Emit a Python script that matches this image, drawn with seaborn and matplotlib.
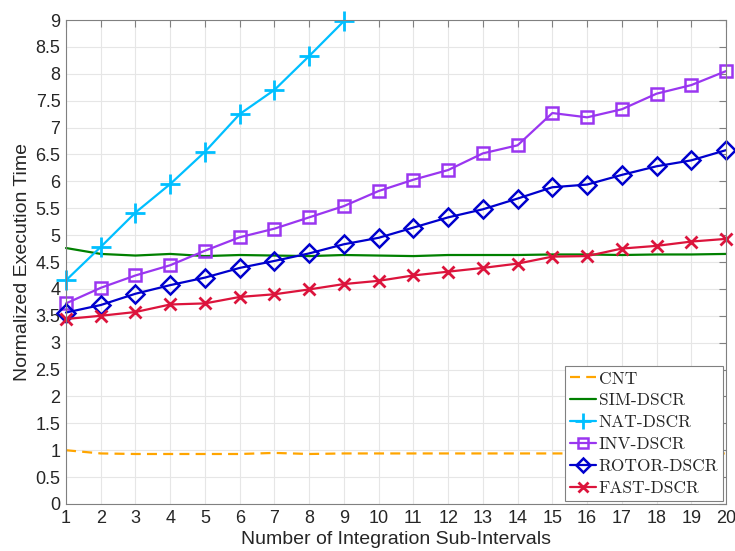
import matplotlib
matplotlib.use("Agg")
import matplotlib.pyplot as plt
import seaborn as sns
import numpy as np
import pandas as pd

x = list(range(1, 21))
cnt = [1.00, 0.94, 0.93, 0.93, 0.93, 0.93, 0.95, 0.93, 0.94, 0.94,
       0.94, 0.94, 0.94, 0.94, 0.94, 0.94, 0.94, 0.94, 0.94, 0.94]
sim = [4.76, 4.65, 4.62, 4.65, 4.61, 4.63, 4.62, 4.61, 4.63, 4.62,
       4.61, 4.63, 4.63, 4.63, 4.64, 4.64, 4.63, 4.64, 4.64, 4.65]
nat_x = list(range(1, 10))
nat = [4.16, 4.78, 5.42, 5.95, 6.55, 7.25, 7.70, 8.33, 8.98]
inv = [3.73, 4.02, 4.25, 4.44, 4.71, 4.96, 5.12, 5.33, 5.54, 5.82,
       6.03, 6.21, 6.52, 6.67, 7.27, 7.19, 7.34, 7.63, 7.79, 8.05]
rotor = [3.56, 3.70, 3.91, 4.07, 4.21, 4.39, 4.52, 4.66, 4.83, 4.95,
         5.14, 5.33, 5.48, 5.68, 5.89, 5.94, 6.12, 6.28, 6.39, 6.58]
fast = [3.44, 3.50, 3.57, 3.71, 3.73, 3.85, 3.90, 3.99, 4.09, 4.15,
        4.25, 4.32, 4.39, 4.47, 4.60, 4.61, 4.75, 4.80, 4.88, 4.93]
labels = ["CNT", "SIM-DSCR", "NAT-DSCR", "INV-DSCR", "ROTOR-DSCR", "FAST-DSCR"]
xticks = list(range(1, 21))
yticks = [0, 0.5, 1, 1.5, 2, 2.5, 3, 3.5, 4, 4.5, 5, 5.5, 6, 6.5, 7, 7.5, 8, 8.5, 9]

sns.set_style("whitegrid")
plt.rcParams['font.family'] = ['Liberation Sans', 'DejaVu Sans']

fig = plt.figure(figsize=(7.35, 5.51), dpi=100)
ax = fig.add_axes([0.0898, 0.0853, 0.8980, 0.8784])

lw = 1.6
common = dict(ax=ax, lw=lw, clip_on=False)
sns.lineplot(x=x, y=cnt, color="#FFA500", linestyle=(0, (4.5, 2.8)), label=labels[0], **common)
sns.lineplot(x=x, y=sim, color="#008000", linestyle="-", label=labels[1], **common)
sns.lineplot(x=nat_x, y=nat, color="#00BFFF", linestyle="-", marker="+", markersize=15,
             markeredgewidth=2, markeredgecolor="#00BFFF", label=labels[2], **common)
sns.lineplot(x=x, y=inv, color="#9A36F0", linestyle="-", marker="s", markersize=9,
             markerfacecolor="none", markeredgecolor="#9A36F0", markeredgewidth=1.8,
             label=labels[3], **common)
sns.lineplot(x=x, y=rotor, color="#0000CD", linestyle="-", marker="D", markersize=9,
             markerfacecolor="none", markeredgecolor="#0000CD", markeredgewidth=1.8,
             label=labels[4], **common)
sns.lineplot(x=x, y=fast, color="#DC143C", linestyle="-", marker="x", markersize=9,
             markeredgewidth=2, markeredgecolor="#DC143C", label=labels[5], **common)

ax.set_xlim(1, 20)
ax.set_ylim(0, 9)
ax.set_xticks(xticks)
ax.set_yticks(yticks)
ax.set_yticklabels([f"{v:g}" for v in yticks])
ax.tick_params(axis="both", labelsize=13, direction="in", length=5,
               top=True, right=True, labelcolor="#262626", color="#808080", pad=4)
ax.grid(True, color="#E6E6E6", lw=0.8)
for s in ax.spines.values():
    s.set_color("#808080")
    s.set_linewidth(0.8)
ax.set_xlabel("Number of Integration Sub-Intervals", fontsize=14, color="#262626", labelpad=3)
ax.set_ylabel("Normalized Execution Time", fontsize=14, color="#262626", labelpad=3)

leg = ax.legend(loc="lower right", prop={"family": ["cmr10", "DejaVu Serif"], "size": 12.5},
                frameon=True, fancybox=False, framealpha=1, edgecolor="#808080",
                handlelength=1.5, handletextpad=0.15, labelspacing=0.38, borderpad=0.3,
                borderaxespad=0.15, markerscale=0.8)
leg.get_frame().set_linewidth(0.8)
leg.set_zorder(10)

fig.savefig("out.png", dpi=100)
